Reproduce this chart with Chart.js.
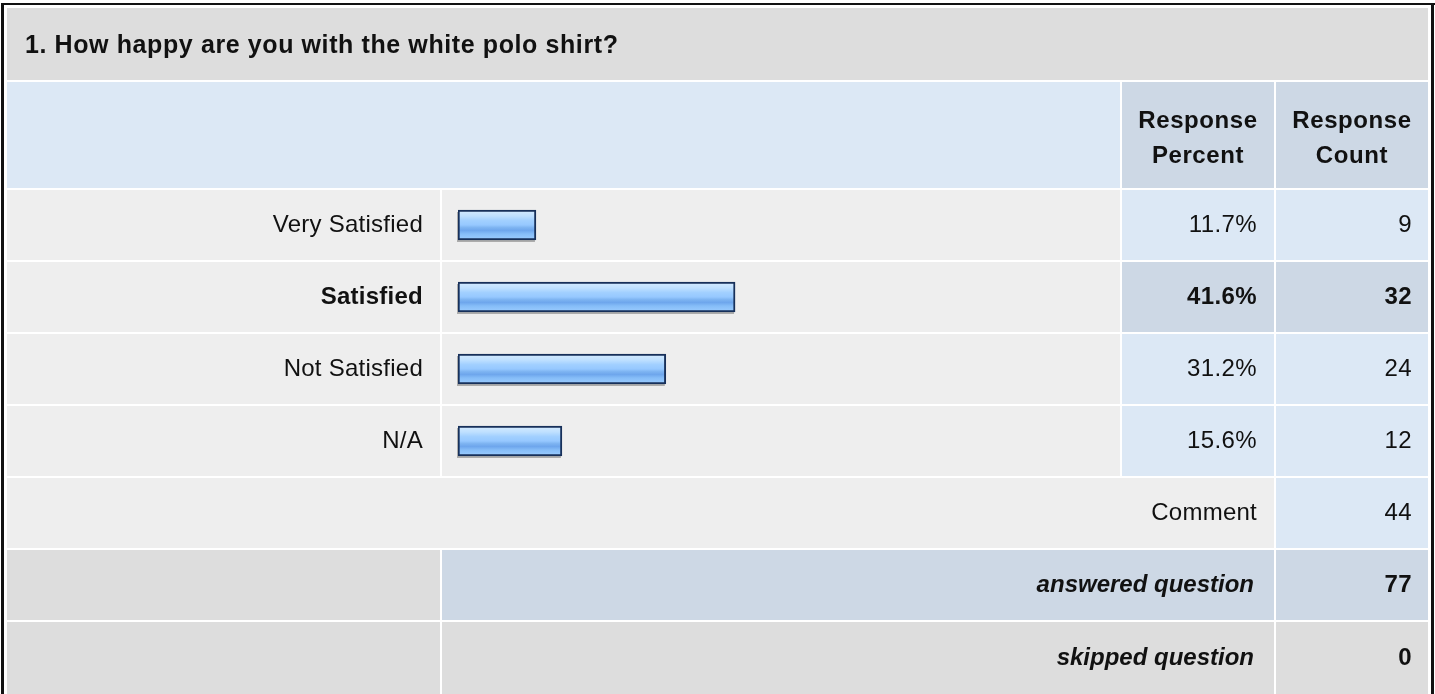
<!DOCTYPE html>
<html>
<head>
<meta charset="utf-8">
<script src="https://cdn.jsdelivr.net/npm/chart.js@4/dist/chart.umd.min.js"></script>
<style>
  html, body { margin: 0; padding: 0; background: #fff; }
  #wrap { width: 1435px; height: 694px; position: relative; }
</style>
</head>
<body>
<div id="wrap"><canvas id="chartSurvey"></canvas></div>
<script>
const question = "1. How happy are you with the white polo shirt?";
const categories = ["Very Satisfied", "Satisfied", "Not Satisfied", "N/A"];
const percents = [11.7, 41.6, 31.2, 15.6];
const counts = [9, 32, 24, 12];
const highlighted = 1;
const commentCount = 44;
const answeredCount = 77;
const skippedCount = 0;

// table geometry (px)
const cols = { labelL: 7, labelR: 440, barL: 442, barR: 1120, pctL: 1122, pctR: 1274, cntL: 1276, cntR: 1428 };
const rowTops = [8, 82, 190, 262, 334, 406, 478, 550, 622];
const rowBottoms = [80, 188, 260, 332, 404, 476, 548, 620, 694];

const FONT = '"Liberation Sans", Arial, sans-serif';
const C_TITLE = '#dddddd', C_HEAD = '#dce8f5', C_HEAD2 = '#cdd8e5';
const C_ROW = '#eeeeee', C_CELL = '#dce8f5', C_HI = '#cdd8e5', C_GRAY = '#dddddd';

renderSurvey();

function renderSurvey() {
    const tablePlugin = {
        id: 'surveyTable',
        beforeDraw(chart) {
            const ctx = chart.ctx;
            ctx.save();
            ctx.fillStyle = '#fff';
            ctx.fillRect(0, 0, chart.width, chart.height);
            // outer border
            ctx.fillStyle = '#111';
            ctx.fillRect(1, 3, 3, 691);
            ctx.fillRect(1, 3, 1434, 2);
            ctx.fillRect(1431, 3, 3, 691);

            const cell = (l, r, row, color) => {
                ctx.fillStyle = color;
                ctx.fillRect(l, rowTops[row], r - l, rowBottoms[row] - rowTops[row]);
            };
            const text = (str, x, y, align, weight, spacing, size) => {
                ctx.font = weight + ' ' + (size || 24) + 'px ' + FONT;
                ctx.letterSpacing = (spacing === undefined ? 0.4 : spacing) + 'px';
                ctx.textAlign = align;
                ctx.textBaseline = 'middle';
                ctx.fillStyle = '#111';
                ctx.fillText(str, x, y);
            };
            const mid = row => (rowTops[row] + rowBottoms[row]) / 2;

            // title
            cell(cols.labelL, cols.cntR, 0, C_TITLE);
            text(question, 25, 46, 'left', 'bold', 0.6, 25);

            // header
            cell(cols.labelL, cols.barR, 1, C_HEAD);
            cell(cols.pctL, cols.pctR, 1, C_HEAD2);
            cell(cols.cntL, cols.cntR, 1, C_HEAD2);
            const pc = (cols.pctL + cols.pctR) / 2, cc = (cols.cntL + cols.cntR) / 2;
            text('Response', pc, 121, 'center', 'bold', 0.6);
            text('Percent', pc, 156, 'center', 'bold', 0.6);
            text('Response', cc, 121, 'center', 'bold', 0.6);
            text('Count', cc, 156, 'center', 'bold', 0.6);

            // answer rows
            categories.forEach((name, i) => {
                const row = i + 2;
                const hi = i === highlighted;
                const w = hi ? 'bold' : 'normal';
                cell(cols.labelL, cols.labelR, row, C_ROW);
                cell(cols.barL, cols.barR, row, C_ROW);
                cell(cols.pctL, cols.pctR, row, hi ? C_HI : C_CELL);
                cell(cols.cntL, cols.cntR, row, hi ? C_HI : C_CELL);
                text(name, 423, mid(row), 'right', w, 0.25);
                text(percents[i].toFixed(1) + '%', cols.pctR - 17, mid(row), 'right', w);
                text(String(counts[i]), cols.cntR - 16, mid(row), 'right', w);
            });

            // comment row
            cell(cols.labelL, cols.pctR, 6, C_ROW);
            cell(cols.cntL, cols.cntR, 6, C_CELL);
            text('Comment', cols.pctR - 17, mid(6), 'right', 'normal', 0.25);
            text(String(commentCount), cols.cntR - 16, mid(6), 'right', 'normal');

            // answered / skipped
            cell(cols.labelL, cols.labelR, 7, C_GRAY);
            cell(cols.barL, cols.pctR, 7, C_HI);
            cell(cols.cntL, cols.cntR, 7, C_HI);
            text('answered question', cols.pctR - 20, mid(7), 'right', 'italic bold', 0);
            text(String(answeredCount), cols.cntR - 16, mid(7), 'right', 'bold');

            cell(cols.labelL, cols.labelR, 8, C_GRAY);
            cell(cols.barL, cols.pctR, 8, C_GRAY);
            cell(cols.cntL, cols.cntR, 8, C_GRAY);
            text('skipped question', cols.pctR - 20, mid(8), 'right', 'italic bold', 0);
            text(String(skippedCount), cols.cntR - 16, mid(8), 'right', 'bold');
            ctx.restore();
        },
        beforeDatasetsDraw(chart) {
            // soft drop shadow under each bar
            const ctx = chart.ctx;
            ctx.save();
            ctx.fillStyle = 'rgba(90,90,90,0.45)';
            chart.getDatasetMeta(0).data.forEach(bar => {
                const h = bar.height;
                ctx.fillRect(bar.base - 1, bar.y - h / 2 + 2, bar.x - bar.base, h);
            });
            ctx.restore();
        }
    };

    const barFill = (c) => {
        const chart = c.chart;
        const y = chart.scales && chart.scales.y;
        if (c.dataIndex === undefined || !y) return '#94c6ff';
        const yc = y.getPixelForValue(c.dataIndex);
        if (!isFinite(yc)) return '#94c6ff';
        const g = chart.ctx.createLinearGradient(0, yc - 15, 0, yc + 15);
        g.addColorStop(0.00, '#d6ecff');
        g.addColorStop(0.20, '#bfe0ff');
        g.addColorStop(0.35, '#a2d0ff');
        g.addColorStop(0.50, '#96c8ff');
        g.addColorStop(0.58, '#7fb5f2');
        g.addColorStop(0.68, '#6ea6ec');
        g.addColorStop(0.80, '#86bdf8');
        g.addColorStop(1.00, '#9ccdff');
        return g;
    };

    const config = {
        type: 'bar',
        data: {
            labels: categories,
            datasets: [{
                data: percents,
                backgroundColor: barFill,
                borderColor: '#17305a',
                borderWidth: 2,
                borderSkipped: false,
                barThickness: 30
            }]
        },
        options: {
            indexAxis: 'y',
            responsive: true,
            maintainAspectRatio: false,
            animation: false,
            layout: { padding: { left: 458, right: 311, top: 189, bottom: 217 } },
            scales: {
                x: { display: false, min: 0, max: 100 },
                y: { display: false }
            },
            plugins: {
                legend: { display: false },
                tooltip: { enabled: false }
            }
        },
        plugins: [tablePlugin]
    };
    var myChart = new Chart(document.getElementById('chartSurvey'), config);
}
</script>
</body>
</html>
